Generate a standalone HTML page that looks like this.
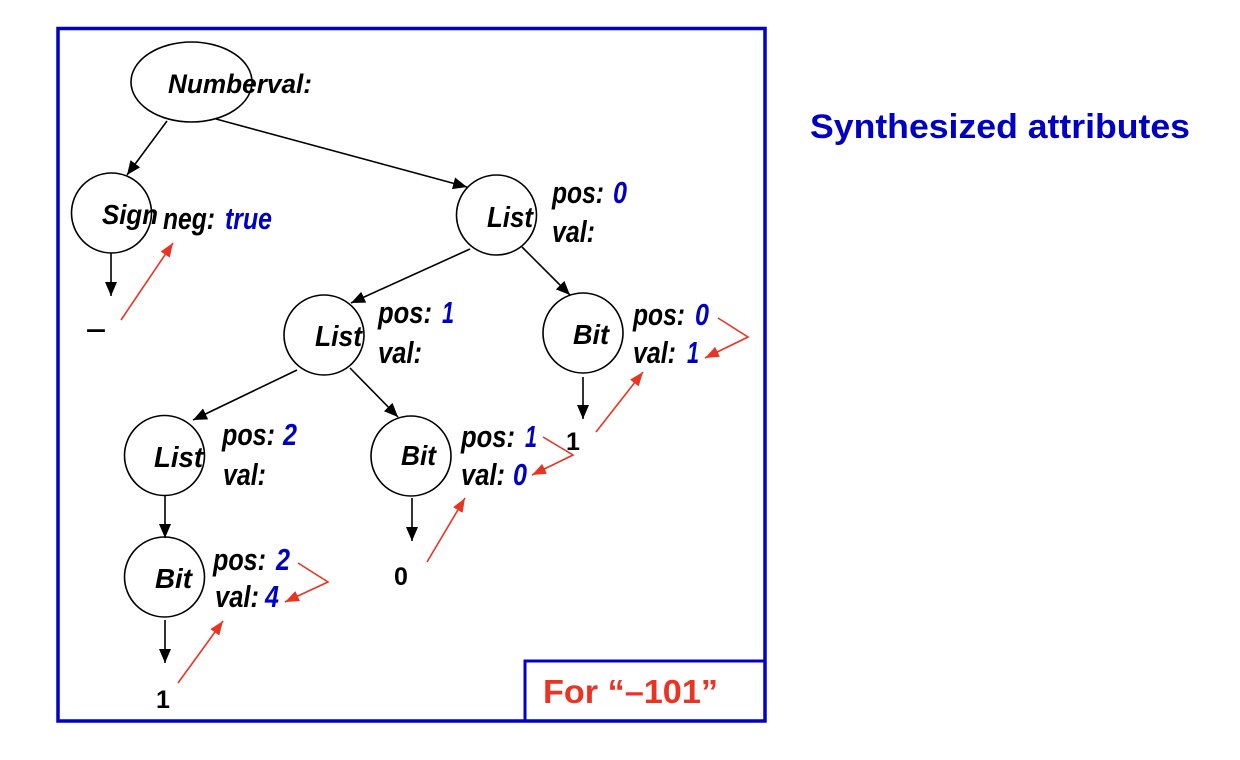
<!DOCTYPE html>
<html>
<head>
<meta charset="utf-8">
<style>
  html, body { margin:0; padding:0; background:#ffffff; }
  body { width:1240px; height:760px; overflow:hidden; }
  svg { display:block; }
  .lbl { font-family:"Liberation Sans", Arial, sans-serif; font-weight:bold; font-style:italic; fill:#000; }
  .blu { fill:#0000c4; }
  .leaf { font-family:"Liberation Sans", Arial, sans-serif; font-weight:bold; fill:#000; }
</style>
</head>
<body>
<svg width="1240" height="760" viewBox="0 0 1240 760" xmlns="http://www.w3.org/2000/svg">
  <defs>
    <marker id="ab" markerUnits="userSpaceOnUse" markerWidth="16" markerHeight="14" refX="14" refY="6" orient="auto">
      <path d="M0,0 L14,6 L0,12 z" fill="#000"/>
    </marker>
    <marker id="ar" markerUnits="userSpaceOnUse" markerWidth="16" markerHeight="14" refX="14" refY="5.5" orient="auto">
      <path d="M0,0 L14,5.5 L0,11 z" fill="#ea3323"/>
    </marker>
  </defs>

  <!-- outer frame -->
  <rect x="58" y="28.5" width="707" height="692.5" fill="none" stroke="#0000c8" stroke-width="3.5"/>
  <!-- inner box -->
  <rect x="525" y="661" width="240" height="60" fill="none" stroke="#0000c8" stroke-width="3"/>
  <text x="543" y="703" font-family="Liberation Sans, Arial, sans-serif" font-weight="bold" font-size="33" fill="#ea3323" textLength="175" lengthAdjust="spacingAndGlyphs">For “–101”</text>

  <!-- title -->
  <text x="810" y="138" font-family="Liberation Sans, Arial, sans-serif" font-weight="bold" font-size="34" fill="#0000c4" textLength="380" lengthAdjust="spacingAndGlyphs">Synthesized attributes</text>

  <!-- nodes -->
  <g fill="none" stroke="#000" stroke-width="1.6">
    <ellipse cx="191.5" cy="82" rx="60.5" ry="40"/>
    <circle cx="111.5" cy="213" r="40"/>
    <circle cx="496.5" cy="215" r="40"/>
    <circle cx="583" cy="333" r="40"/>
    <circle cx="324" cy="335" r="40"/>
    <circle cx="411" cy="456" r="40"/>
    <circle cx="164.5" cy="455.5" r="40"/>
    <circle cx="164.5" cy="577" r="40"/>
  </g>

  <!-- black tree edges -->
  <g stroke="#000" stroke-width="1.6" fill="none" marker-end="url(#ab)">
    <line x1="167" y1="121" x2="127" y2="175"/>
    <line x1="216" y1="119" x2="467" y2="187"/>
    <line x1="111" y1="253" x2="111" y2="296"/>
    <line x1="470" y1="249" x2="351" y2="303"/>
    <line x1="522" y1="247" x2="570" y2="295"/>
    <line x1="583" y1="377" x2="583" y2="419"/>
    <line x1="297" y1="370" x2="193" y2="420"/>
    <line x1="350" y1="368" x2="398" y2="417"/>
    <line x1="412" y1="498" x2="412" y2="541"/>
    <line x1="165" y1="496" x2="165" y2="538"/>
    <line x1="165" y1="620" x2="165" y2="663"/>
  </g>

  <!-- red attribute flow -->
  <g stroke="#ea3323" stroke-width="1.6" fill="none" marker-end="url(#ar)">
    <line x1="121" y1="320" x2="173" y2="243"/>
    <line x1="596" y1="432" x2="643" y2="372"/>
    <line x1="427" y1="562" x2="465" y2="498"/>
    <line x1="178" y1="683" x2="223" y2="621"/>
    <polyline points="718,318 748,337 705,358"/>
    <polyline points="543,437 573,455 532,475"/>
    <polyline points="298,563 328,582 285,602"/>
  </g>

  <!-- node labels -->
  <text class="lbl" x="168" y="93" font-size="27" textLength="144" lengthAdjust="spacingAndGlyphs">Numberval:</text>
  <text class="lbl" x="102" y="224" font-size="28" textLength="56" lengthAdjust="spacingAndGlyphs">Sign</text>
  <text class="lbl" x="163" y="229" font-size="31" textLength="52" lengthAdjust="spacingAndGlyphs">neg:</text>
  <text class="lbl blu" x="225" y="229" font-size="31" textLength="47" lengthAdjust="spacingAndGlyphs">true</text>

  <text class="lbl" x="487" y="227" font-size="29" textLength="46" lengthAdjust="spacingAndGlyphs">List</text>
  <text class="lbl" x="315" y="346" font-size="29" textLength="47" lengthAdjust="spacingAndGlyphs">List</text>
  <text class="lbl" x="154" y="467" font-size="29" textLength="49" lengthAdjust="spacingAndGlyphs">List</text>
  <text class="lbl" x="573" y="344" font-size="28" textLength="36" lengthAdjust="spacingAndGlyphs">Bit</text>
  <text class="lbl" x="401" y="465" font-size="28" textLength="35" lengthAdjust="spacingAndGlyphs">Bit</text>
  <text class="lbl" x="155" y="588" font-size="28" textLength="37" lengthAdjust="spacingAndGlyphs">Bit</text>

  <!-- attribute labels: List0 -->
  <text class="lbl" x="552" y="203" font-size="31" textLength="52" lengthAdjust="spacingAndGlyphs">pos:</text>
  <text class="lbl blu" x="613" y="203" font-size="31" textLength="14" lengthAdjust="spacingAndGlyphs">0</text>
  <text class="lbl" x="552" y="242" font-size="31" textLength="43" lengthAdjust="spacingAndGlyphs">val:</text>

  <!-- Bit0 -->
  <text class="lbl" x="633" y="325" font-size="31" textLength="52" lengthAdjust="spacingAndGlyphs">pos:</text>
  <text class="lbl blu" x="695" y="325" font-size="31" textLength="14" lengthAdjust="spacingAndGlyphs">0</text>
  <text class="lbl" x="633" y="363" font-size="31" textLength="43" lengthAdjust="spacingAndGlyphs">val:</text>
  <text class="lbl blu" x="687" y="363" font-size="31" textLength="12" lengthAdjust="spacingAndGlyphs">1</text>

  <!-- List1 -->
  <text class="lbl" x="378" y="323" font-size="31" textLength="54" lengthAdjust="spacingAndGlyphs">pos:</text>
  <text class="lbl blu" x="442" y="323" font-size="31" textLength="12" lengthAdjust="spacingAndGlyphs">1</text>
  <text class="lbl" x="378" y="363" font-size="31" textLength="44" lengthAdjust="spacingAndGlyphs">val:</text>

  <!-- Bit1 -->
  <text class="lbl" x="461" y="447" font-size="31" textLength="54" lengthAdjust="spacingAndGlyphs">pos:</text>
  <text class="lbl blu" x="525" y="447" font-size="31" textLength="12" lengthAdjust="spacingAndGlyphs">1</text>
  <text class="lbl" x="461" y="485" font-size="31" textLength="44" lengthAdjust="spacingAndGlyphs">val:</text>
  <text class="lbl blu" x="513" y="485" font-size="31" textLength="14" lengthAdjust="spacingAndGlyphs">0</text>

  <!-- List2 -->
  <text class="lbl" x="222" y="445" font-size="31" textLength="53" lengthAdjust="spacingAndGlyphs">pos:</text>
  <text class="lbl blu" x="283" y="445" font-size="31" textLength="14" lengthAdjust="spacingAndGlyphs">2</text>
  <text class="lbl" x="223" y="485" font-size="31" textLength="43" lengthAdjust="spacingAndGlyphs">val:</text>

  <!-- Bit2 -->
  <text class="lbl" x="213" y="570" font-size="31" textLength="53" lengthAdjust="spacingAndGlyphs">pos:</text>
  <text class="lbl blu" x="276" y="570" font-size="31" textLength="14" lengthAdjust="spacingAndGlyphs">2</text>
  <text class="lbl" x="215" y="607" font-size="31" textLength="44" lengthAdjust="spacingAndGlyphs">val:</text>
  <text class="lbl blu" x="265" y="607" font-size="31" textLength="14" lengthAdjust="spacingAndGlyphs">4</text>

  <!-- leaves -->
  <text class="leaf" x="86" y="338" font-size="28" textLength="20" lengthAdjust="spacingAndGlyphs">–</text>
  <text class="leaf" x="573" y="450" font-size="25" text-anchor="middle">1</text>
  <text class="leaf" x="401" y="585" font-size="25" text-anchor="middle">0</text>
  <text class="leaf" x="163" y="708" font-size="25" text-anchor="middle">1</text>
</svg>
</body>
</html>
